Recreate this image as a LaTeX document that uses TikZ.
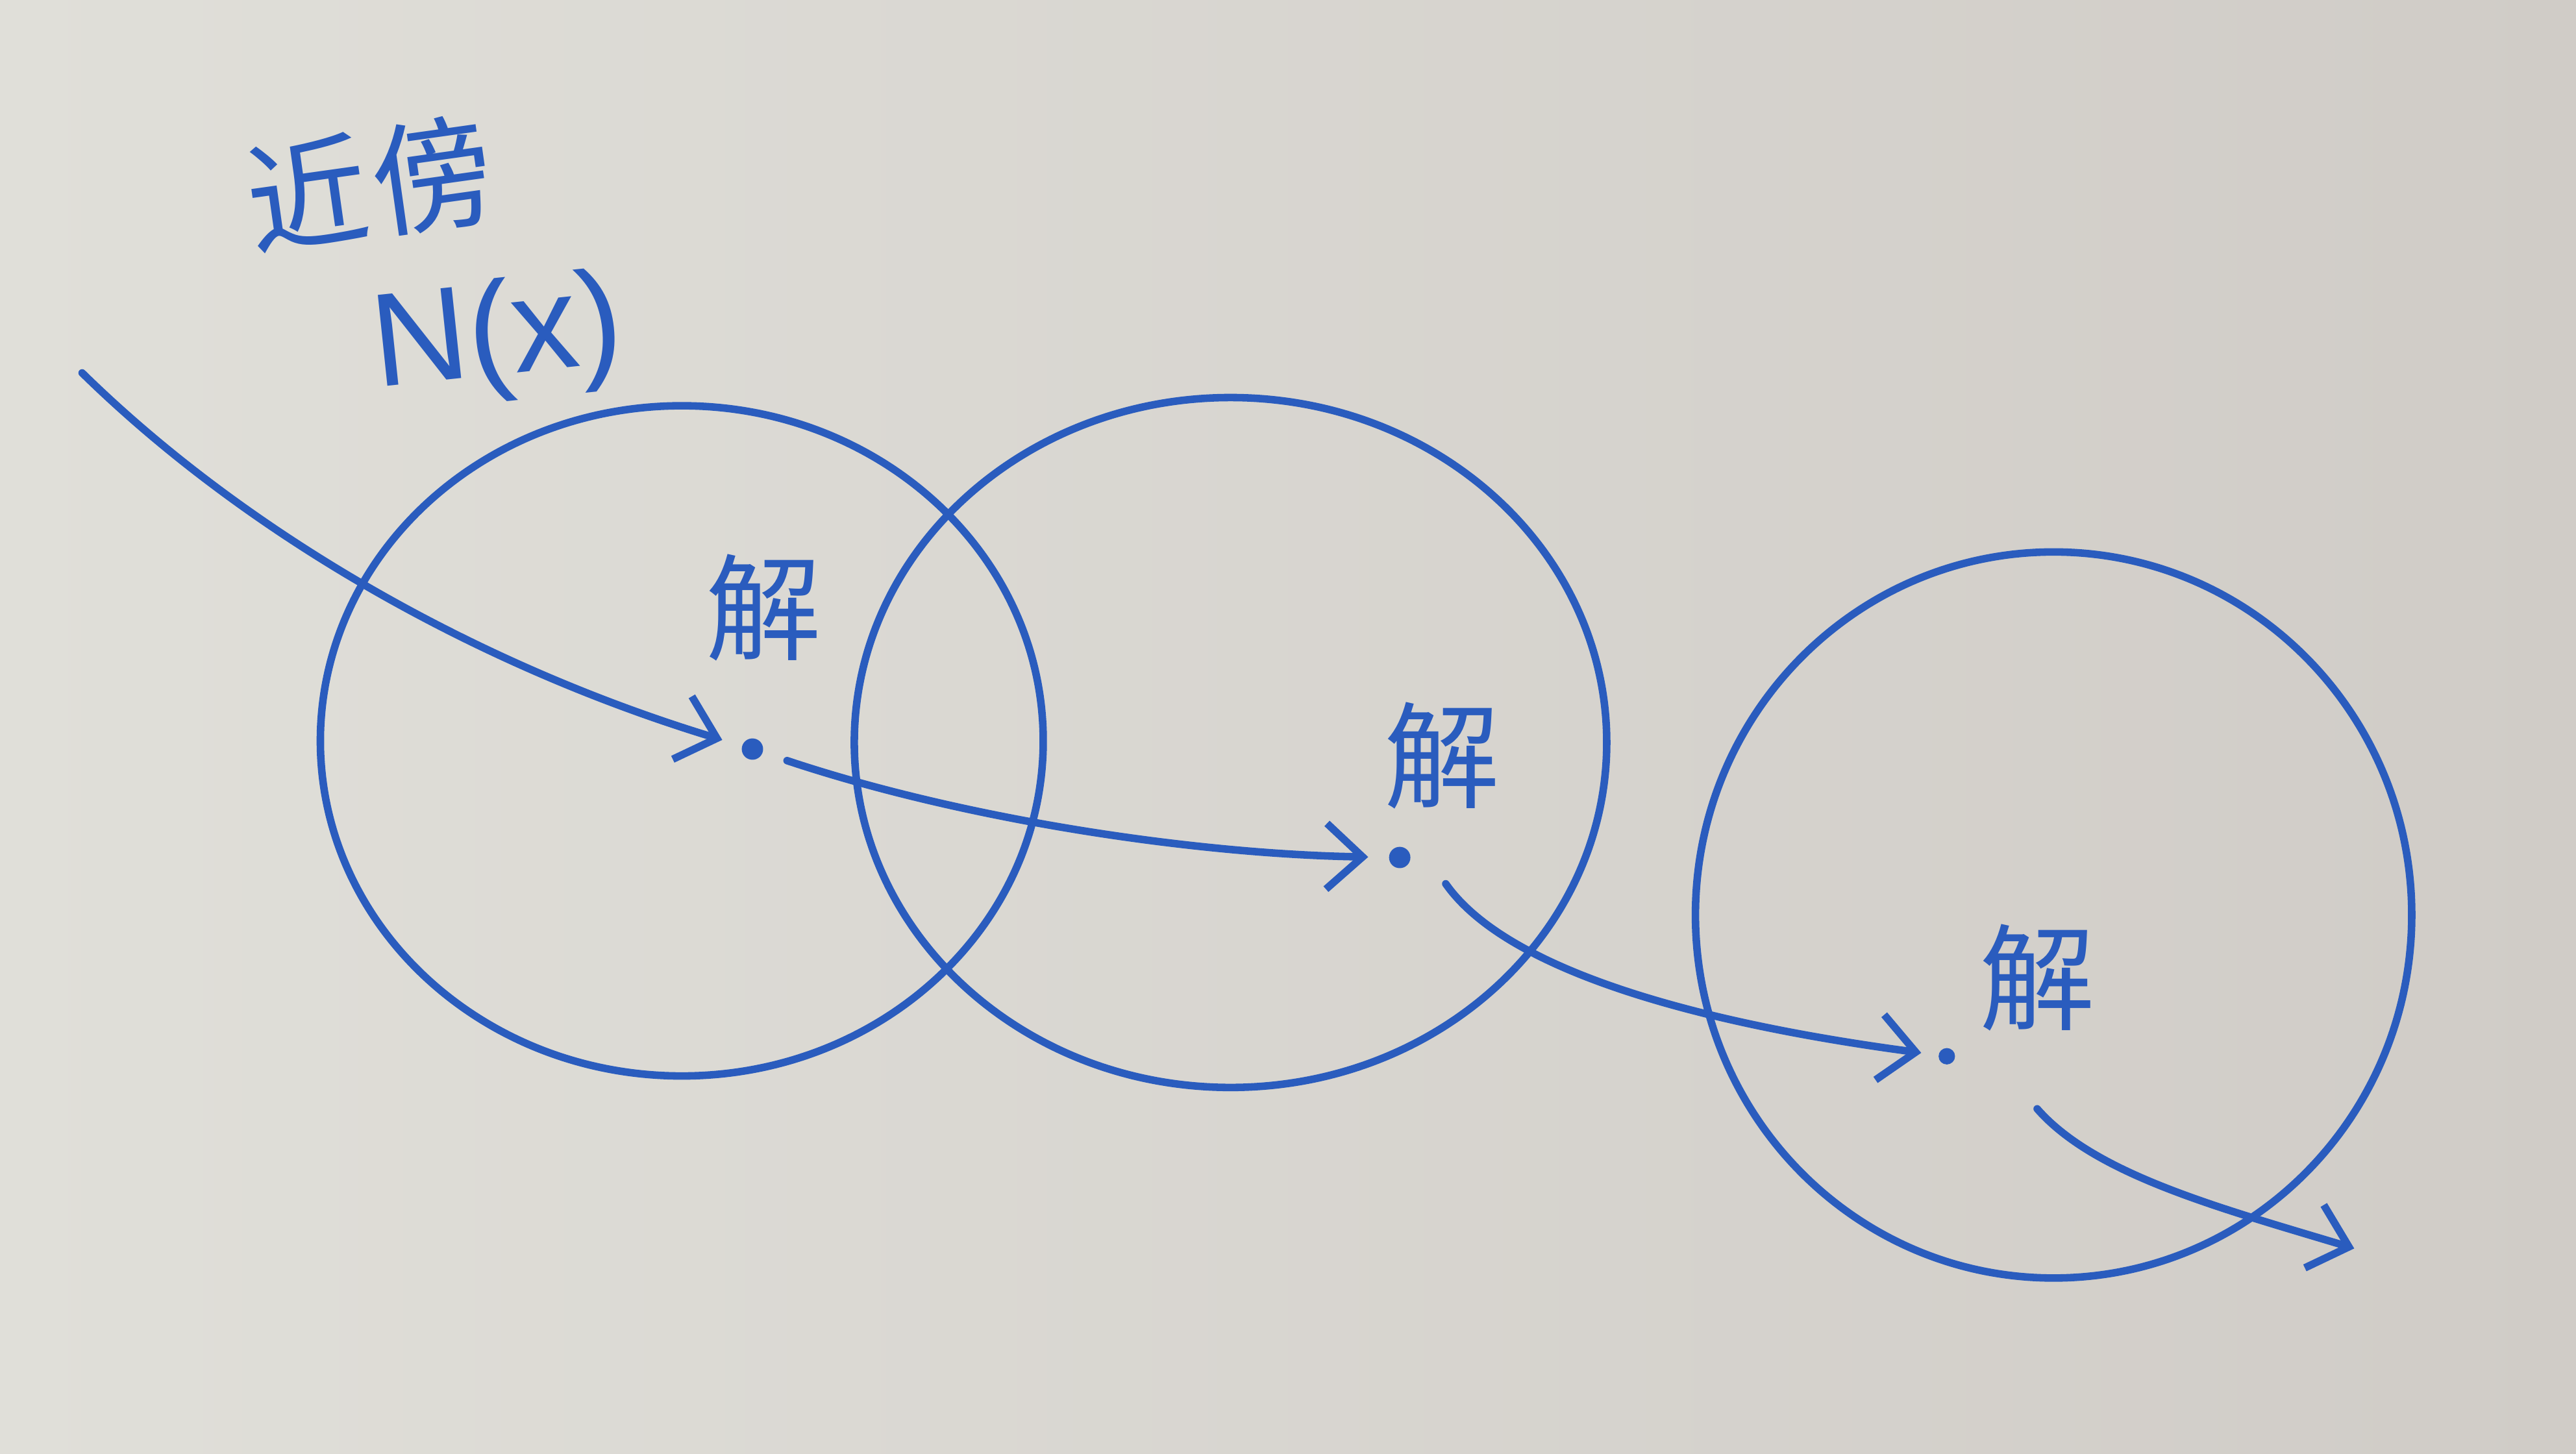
\documentclass[tikz,border=0pt]{standalone}
\usepackage{fontspec}
\newfontfamily\cjk{Noto Sans CJK SC}
\setmainfont{Liberation Sans}
\usetikzlibrary{arrows.meta}
\definecolor{marker}{RGB}{42,92,190}
\definecolor{boardL}{RGB}{224,223,217}
\definecolor{boardR}{RGB}{208,204,199}
\tikzset{
  ink/.style={draw=marker, line width=1.3pt, line cap=round},
  arr/.style={ink, -{Straight Barb[length=2.2mm,width=4mm,line width=1.3pt]}},
  pt/.style={circle, fill=marker, inner sep=0pt, minimum size=1.3mm},
  lab/.style={text=marker, font=\cjk\fontsize{20}{20}\selectfont, inner sep=1pt}
}
\begin{document}
\begin{tikzpicture}
\shade[left color=boardL, right color=boardR] (0,0) rectangle (15.68,-8.85);
\useasboundingbox (0,0) rectangle (15.68,-8.85);
% neighbourhoods
\draw[ink] (4.15,-4.51) ellipse [x radius=2.20, y radius=2.04];
\draw[ink] (7.49,-4.52) ellipse [x radius=2.29, y radius=2.10];
\draw[ink] (12.50,-5.57) ellipse [x radius=2.18, y radius=2.21];
% labels
\node[lab, font=\cjk\fontsize{21}{21}\selectfont, rotate=8] (kinbo) at (2.25,-1.12) {近\kern1pt傍};
\node[text=marker, font=\fontsize{23}{23}\selectfont, inner sep=1pt, rotate=6] (nx) at (3.03,-2.07) {N(x)};
\node[lab] (l1) at (4.65,-3.70) {解};
\node[lab] (l2) at (8.78,-4.60) {解};
\node[lab] (l3) at (12.40,-5.95) {解};
% solution points
\node[pt] (p1) at (4.58,-4.56) {};
\node[pt] (p2) at (8.52,-5.22) {};
\node[pt, minimum size=1.0mm] (p3) at (11.85,-6.43) {};
\coordinate (start) at (0.50,-2.27);
\coordinate (s3) at (8.80,-5.38);
\coordinate (s4) at (12.40,-6.75);
\coordinate (end) at (14.33,-7.60);
% moves
\draw[arr, shorten >=1.2mm] (start) .. controls (1.5,-3.25) and (2.9,-4.05) .. (p1);
\draw[arr, shorten <=1.5mm, shorten >=1.2mm] (p1) .. controls (5.9,-5.0) and (7.3,-5.2) .. (p2);
\draw[arr, shorten >=1.0mm] (s3) .. controls (9.2,-5.95) and (10.5,-6.25) .. (p3);
\draw[arr] (s4) .. controls (12.75,-7.15) and (13.5,-7.35) .. (end);
\end{tikzpicture}
\end{document}
